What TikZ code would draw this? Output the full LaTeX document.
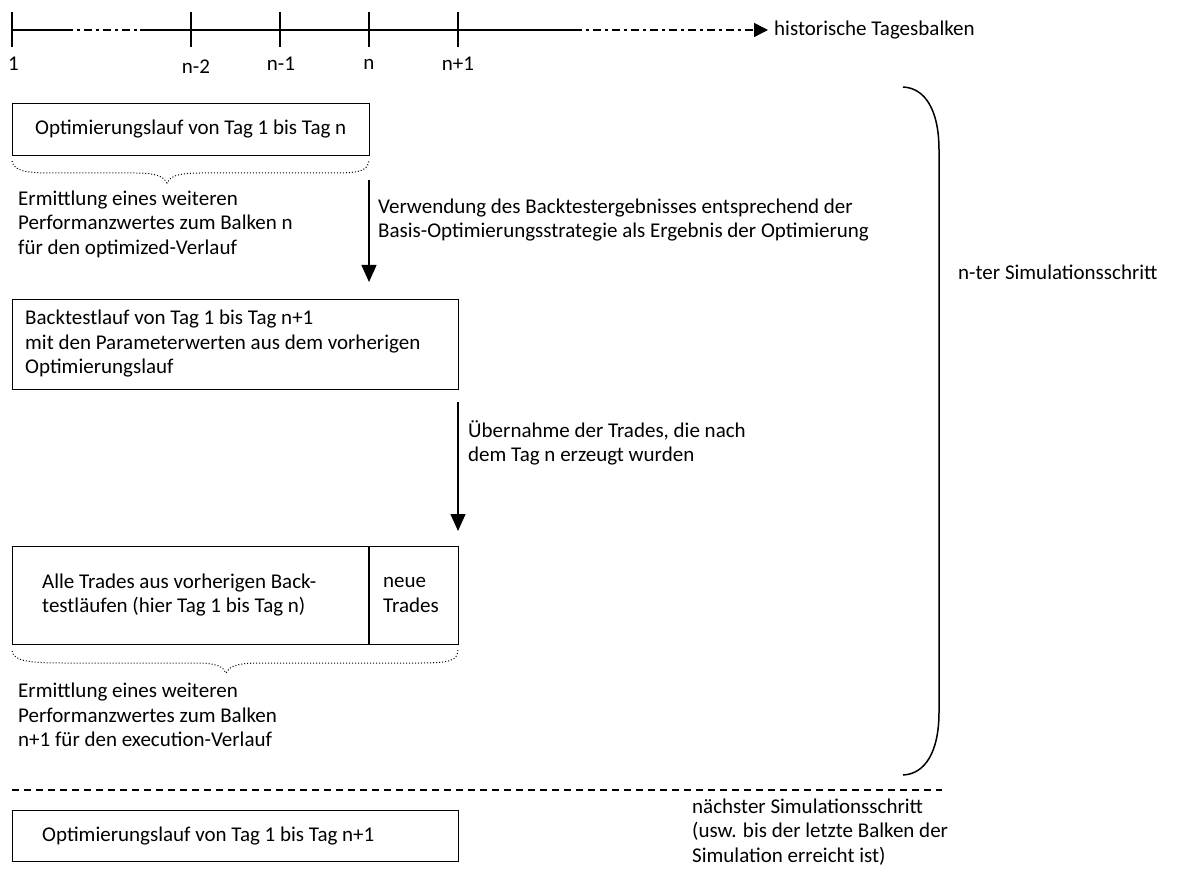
\documentclass[tikz,border=0pt]{standalone}
\usepackage{fontspec}
\setmainfont{Carlito}
\usetikzlibrary{arrows.meta}
\begin{document}
\begin{tikzpicture}[x=1pt,y=-1pt,
  every node/.style={font=\fontsize{21}{24.5}\selectfont, inner sep=0pt},
  box/.style={draw, line width=1.3pt, anchor=north west, minimum width=#1},
  txt/.style={anchor=west, align=left},
  tick/.style={line width=1.3pt},
  axis/.style={line width=1.5pt},
  flow/.style={line width=1.3pt, -{Triangle[length=17pt,width=15pt]}},
  brace/.style={line width=1pt, dotted},
]
\useasboundingbox (0,0) rectangle (1183,877);
% axis
\coordinate (a0) at (12,30);
\coordinate (a1) at (65,30);
\coordinate (a2) at (140,30);
\coordinate (a3) at (574,30);
\coordinate (a4) at (768,30);
\draw[axis] (a0) -- (a1);
\draw[axis, dash pattern=on 8pt off 4pt on 3pt off 4pt] (a1) -- (a2);
\draw[axis] (a2) -- (a3);
\draw[axis, dash pattern=on 8pt off 4pt on 3pt off 4pt, -{Triangle[length=14pt,width=14pt]}] (a3) -- (a4);
\foreach \x/\n in {12/t1,191/t2,280/t3,369/t4,458/t5}{
  \coordinate (\n u) at (\x,12); \coordinate (\n d) at (\x,47);
  \draw[tick] (\n u) -- (\n d);
}
\node[anchor=west] (l1) at (8,64) {1};
\node (l2) at (196,67) {n-2};
\node (l3) at (281,64) {n-1};
\node (l4) at (369,64) {n};
\node (l5) at (458,64) {n+1};
\node[txt] (hist) at (774,30) {historische Tagesbalken};

% box 1
\node[box=357pt, minimum height=52pt] (b1) at (12,103) {};
\node[txt] (b1t) at (35,129) {Optimierungslauf von Tag 1 bis Tag n};
\draw[brace] (12,161) .. controls (14,171) and (25,173) .. (55,173) -- (135,173)
  .. controls (158,173) and (164,177) .. (167,183)
  .. controls (170,177) and (176,173) .. (200,173) -- (335,173)
  .. controls (362,173) and (368,170) .. (369,160);
\node[txt] (e1) at (18,224) {Ermittlung eines weiteren\\Performanzwertes zum Balken n\\für den optimized-Verlauf};

% arrow 1
\coordinate (f1s) at (369,180);
\coordinate (f1e) at (369,282);
\draw[flow] (f1s) -- (f1e);
\node[txt] (f1l) at (378,220) {Verwendung des Backtestergebnisses entsprechend der\\Basis-Optimierungsstrategie als Ergebnis der Optimierung};

% box 2
\node[box=446pt, minimum height=90pt] (b2) at (12,299) {};
\node[txt] (b2t) at (25,344) {Backtestlauf von Tag 1 bis Tag n+1\\mit den Parameterwerten aus dem vorherigen\\Optimierungslauf};

% arrow 2
\coordinate (f2s) at (458,402);
\coordinate (f2e) at (458,531);
\draw[flow] (f2s) -- (f2e);
\node[txt] (f2l) at (468,443) {Übernahme der Trades, die nach\\dem Tag n erzeugt wurden};

% box 3
\node[box=446pt, minimum height=98pt] (b3) at (12,546) {};
\coordinate (d1) at (369,546);
\coordinate (d2) at (369,644);
\draw[line width=1.3pt] (d1) -- (d2);
\node[txt] (b3t) at (42,595) {Alle Trades aus vorherigen Back-\\testläufen (hier Tag 1 bis Tag n)};
\node[txt] (b3n) at (383,595) {neue\\Trades};
\draw[brace] (12,651) .. controls (14,661) and (28,663) .. (65,663) -- (195,663)
  .. controls (218,663) and (223,667) .. (226,673)
  .. controls (229,667) and (235,663) .. (260,663) -- (420,663)
  .. controls (452,663) and (457,660) .. (458,650);
\node[txt] (e2) at (18,715) {Ermittlung eines weiteren\\Performanzwertes zum Balken\\n+1 für den execution-Verlauf};

% big bracket
\coordinate (k1) at (903,87);
\coordinate (k2) at (903,775);
\draw[line width=1.5pt] (k1) .. controls (925,88) and (939,110) .. (939,150) -- (939,712)
  .. controls (939,752) and (925,774) .. (k2);
\node[txt] (sim) at (958,272) {n-ter Simulationsschritt};

% separator
\coordinate (s1) at (12,790);
\coordinate (s2) at (942,790);
\draw[line width=1.3pt, dash pattern=on 7pt off 5pt] (s1) -- (s2);

% box 4
\node[box=446pt, minimum height=51pt] (b4) at (12,810) {};
\node[txt] (b4t) at (42,836) {Optimierungslauf von Tag 1 bis Tag n+1};
\node[txt] (next) at (692,832) {nächster Simulationsschritt\\(usw. bis der letzte Balken der\\Simulation erreicht ist)};
\end{tikzpicture}
\end{document}
